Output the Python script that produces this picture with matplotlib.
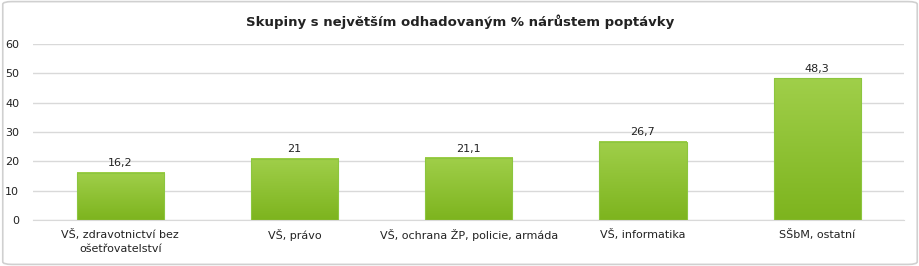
import numpy as np
import matplotlib
matplotlib.use('Agg')
from matplotlib import pyplot as plt
from matplotlib.patches import FancyBboxPatch
from matplotlib.colors import LinearSegmentedColormap

TITLE = 'Skupiny s největším odhadovaným % nárůstem poptávky'
categories = ['VŠ, zdravotnictví bez\nošetřovatelství', 'VŠ, právo',
              'VŠ, ochrana ŽP, policie, armáda', 'VŠ, informatika', 'SŠbM, ostatní']
values = [16.2, 21, 21.1, 26.7, 48.3]
value_labels = ['16,2', '21', '21,1', '26,7', '48,3']
y_ticks = [0, 10, 20, 30, 40, 50, 60]

plt.rcParams['font.family'] = ['DejaVu Sans']

fig = plt.figure(figsize=(9.2, 2.66), dpi=100)
ax = fig.add_axes([0.036, 0.172, 0.947, 0.663])

x = np.arange(len(categories))
bars = ax.bar(x, values, width=0.5, color='none', edgecolor='#8cc63f', linewidth=0.8, zorder=3)

# gradient fill, light top to darker bottom
cmap = LinearSegmentedColormap.from_list('grn', ['#7db41e', '#a0cf4a'])
grad = np.linspace(0, 1, 256).reshape(-1, 1)
for b in bars:
    x0, y0 = b.get_x(), b.get_y()
    w, h = b.get_width(), b.get_height()
    ax.imshow(grad, cmap=cmap, aspect='auto', origin='lower',
              extent=(x0, x0 + w, y0, y0 + h), zorder=2)

for b, lab in zip(bars, value_labels):
    ax.text(b.get_x() + b.get_width() / 2, b.get_height() + 1.5, lab,
            ha='center', va='bottom', fontsize=8, color='#222222')

ax.set_xlim(-0.5, len(categories) - 0.5)
ax.set_ylim(0, 60)
ax.set_yticks(y_ticks)
ax.set_xticks(x)
ax.set_xticklabels(categories, fontsize=8, color='#222222', linespacing=1.6)
ax.tick_params(axis='y', length=0, labelsize=8, labelcolor='#222222', pad=10)
ax.tick_params(axis='x', length=0, pad=6)
ax.grid(axis='y', color='#d9d9d9', linewidth=1, zorder=0)
for s in ['top', 'right', 'left']:
    ax.spines[s].set_visible(False)
ax.spines['bottom'].set_color('#d9d9d9')
ax.set_axisbelow(True)

fig.text(0.5, 0.92, TITLE, ha='center', va='center', fontsize=9.5,
         fontweight='bold', color='#222222')

frame = FancyBboxPatch((0.003, 0.006), 0.994, 0.988, boxstyle='round,pad=0,rounding_size=0.01',
                       transform=fig.transFigure, facecolor='none', edgecolor='#d0d0d0',
                       linewidth=1.2)
fig.patches.append(frame)

fig.savefig('out.png', dpi=100)
